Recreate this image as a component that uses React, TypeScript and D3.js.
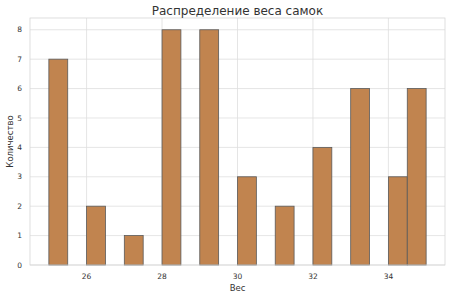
import React from "react";
import * as d3 from "d3";

const binStarts = [25, 26, 27, 28, 29, 30, 31, 32, 33, 34, 34.5];
const counts = [7, 2, 1, 8, 8, 3, 2, 4, 6, 3, 6];
const binWidth = 0.5;
const xTicks = [26, 28, 30, 32, 34];
const yTicks = [0, 1, 2, 3, 4, 5, 6, 7, 8];

const W = 450, H = 299;
const m = { left: 30, right: 5, top: 18, bottom: 34 };

export default function App() {
  const x = d3.scaleLinear().domain([24.5, 35.5]).range([m.left, W - m.right]);
  const y = d3.scaleLinear().domain([0, 8.4]).range([H - m.bottom, m.top]);
  const font = "DejaVu Sans, sans-serif";
  return (
    <svg width={W} height={H} style={{ position: "absolute", left: 0, top: 0, background: "#fff" }} fontFamily={font}>
      <rect x={m.left} y={m.top} width={W - m.left - m.right} height={H - m.top - m.bottom} fill="#fff" />
      {xTicks.map(t => (
        <line key={"gx" + t} x1={x(t)} x2={x(t)} y1={m.top} y2={H - m.bottom} stroke="#dedede" strokeWidth={0.8} />
      ))}
      {yTicks.map(t => (
        <line key={"gy" + t} x1={m.left} x2={W - m.right} y1={y(t)} y2={y(t)} stroke="#dedede" strokeWidth={0.8} />
      ))}
      {binStarts.map((b, i) => (
        <rect key={i} x={x(b)} y={y(counts[i])} width={x(b + binWidth) - x(b)} height={y(0) - y(counts[i])}
          fill="#c1844f" stroke="#5a5a5a" strokeWidth={0.8} />
      ))}
      <rect x={m.left} y={m.top} width={W - m.left - m.right} height={H - m.top - m.bottom} fill="none" stroke="#d6d6d6" strokeWidth={0.8} />
      {xTicks.map(t => (
        <text key={"tx" + t} x={x(t)} y={H - m.bottom + 14} textAnchor="middle" fontSize={7.5} fill="#333">{t}</text>
      ))}
      {yTicks.map(t => (
        <text key={"ty" + t} x={m.left - 8} y={y(t) + 2.7} textAnchor="end" fontSize={7.5} fill="#333">{t}</text>
      ))}
      <text x={(m.left + W - m.right) / 2} y={291} textAnchor="middle" fontSize={8.5} fill="#333">Вес</text>
      <text transform={`translate(13,${(m.top + H - m.bottom) / 2}) rotate(-90)`} textAnchor="middle" fontSize={8.5} fill="#333">Количество</text>
      <text x={(m.left + W - m.right) / 2} y={14.5} textAnchor="middle" fontSize={12} fill="#333">Распределение веса самок</text>
    </svg>
  );
}
